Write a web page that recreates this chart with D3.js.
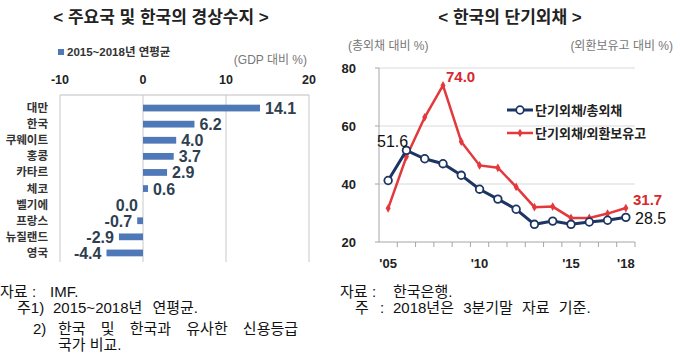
<!DOCTYPE html>
<html>
<head>
<meta charset="utf-8">
<script src="https://cdn.jsdelivr.net/npm/d3@7"></script>
<style>
  body { margin: 0; background: #fff; }
  svg { display: block; font-family: "Liberation Sans", "Noto Sans CJK KR", sans-serif; }
  .note { font-family: "Liberation Sans", "Noto Sans CJK KR", sans-serif; font-size: 15px; fill: #111; }
</style>
</head>
<body>
<div id="chart"></div>
<script>
// 경상수지 (GDP 대비 %, 2015~2018 연평균)
const countries = ["대만", "한국", "쿠웨이트", "홍콩", "카타르", "체코", "벨기에", "프랑스", "뉴질랜드", "영국"];
const balance = [14.1, 6.2, 4.0, 3.7, 2.9, 0.6, 0.0, -0.7, -2.9, -4.4];
const balanceTicks = [-10, 0, 10, 20];

// 한국의 단기외채
const years = [2005, 2006, 2007, 2008, 2009, 2010, 2011, 2012, 2013, 2014, 2015, 2016, 2017, 2018];
const toTotalDebt = [41.2, 51.6, 48.7, 47.0, 43.0, 38.2, 34.8, 31.3, 26.1, 27.2, 26.1, 26.9, 27.5, 28.5];
const toReserves = [31.6, 49.4, 63.0, 74.0, 54.6, 46.4, 45.6, 39.0, 32.0, 32.2, 28.3, 28.3, 29.8, 31.7];
const yearTicks = { 2005: "'05", 2010: "'10", 2015: "'15", 2018: "'18" };
const debtTicks = [20, 40, 60, 80];

(() => {
    const svg = d3.select("#chart").append("svg").attr("width", 680).attr("height", 359);

    const note = (g, x, y, t, ws) => g.append("text").attr("class", "note")
        .attr("x", x).attr("y", y).attr("word-spacing", ws || 0).text(t);

    // ---------- left: bar chart ----------
    const L = svg.append("g");
    L.append("text").attr("x", 161).attr("y", 23).attr("text-anchor", "middle")
        .attr("font-size", 17).attr("font-weight", 700).attr("fill", "#222")
        .text("< 주요국 및 한국의 경상수지 >");

    L.append("rect").attr("x", 58).attr("y", 49).attr("width", 6).attr("height", 6).attr("fill", "#4f78b9");
    L.append("text").attr("x", 67).attr("y", 56).attr("font-size", 11.5).attr("font-weight", 700).attr("fill", "#333")
        .text("2015~2018년 연평균");
    L.append("text").attr("x", 307).attr("y", 64).attr("text-anchor", "end").attr("font-size", 12).attr("fill", "#777")
        .text("(GDP 대비 %)");

    const x = d3.scaleLinear().domain([-10, 20]).range([60, 309]);
    const y = d3.scaleBand().domain(countries).range([100, 261]).paddingInner(0.58).paddingOuter(0.29);

    L.append("line").attr("x1", 60).attr("x2", 309).attr("y1", 95).attr("y2", 95).attr("stroke", "#bfbfbf");
    L.selectAll(".vgrid").data(balanceTicks).join("line")
        .attr("x1", d => x(d)).attr("x2", d => x(d)).attr("y1", 95).attr("y2", 262)
        .attr("stroke", "#c8c8c8");
    L.selectAll(".xt").data(balanceTicks).join("text")
        .attr("x", d => x(d)).attr("y", 84).attr("text-anchor", "middle")
        .attr("font-size", 12.5).attr("font-weight", 700).attr("fill", "#222").text(d => d);

    L.selectAll(".cat").data(countries).join("text")
        .attr("x", 48).attr("y", d => y(d) + y.bandwidth() / 2 + 4).attr("text-anchor", "end")
        .attr("font-size", 11.5).attr("font-weight", 700).attr("fill", "#333").text(d => d);

    const rows = countries.map((c, i) => ({ c, v: balance[i] }));
    L.selectAll(".bar").data(rows).join("rect")
        .attr("x", d => x(Math.min(0, d.v))).attr("width", d => Math.abs(x(d.v) - x(0)))
        .attr("y", d => y(d.c)).attr("height", y.bandwidth()).attr("fill", "#4f78b9");
    L.selectAll(".val").data(rows).join("text")
        .attr("x", d => d.v > 0 ? x(d.v) + 5 : x(d.v) - 5)
        .attr("y", d => y(d.c) + y.bandwidth() / 2 + 6)
        .attr("text-anchor", d => d.v > 0 ? "start" : "end")
        .attr("font-size", 16).attr("font-weight", 700).attr("fill", "#2e4050")
        .text(d => d.v.toFixed(1));

    note(L, 0, 297, "자료");
    note(L, 32, 297, ":");
    note(L, 50, 297, "IMF.");
    note(L, 17, 313, "주1)");
    note(L, 53, 313, "2015~2018년 연평균.", 6);
    note(L, 33, 334, "2)");
    note(L, 58, 334, "한국 및 한국과 유사한 신용등급", 11);
    note(L, 58, 350, "국가 비교.");

    // ---------- right: line chart ----------
    const R = svg.append("g");
    R.append("text").attr("x", 510).attr("y", 23).attr("text-anchor", "middle")
        .attr("font-size", 17).attr("font-weight", 700).attr("fill", "#222")
        .text("< 한국의 단기외채 >");
    R.append("text").attr("x", 348).attr("y", 50).attr("font-size", 12).attr("fill", "#777").text("(총외채 대비 %)");
    R.append("text").attr("x", 673).attr("y", 50).attr("text-anchor", "end").attr("font-size", 12).attr("fill", "#777").text("(외환보유고 대비 %)");

    const xb = d3.scaleBand().domain(years).range([379, 635]);
    const px = d => xb(d) + xb.bandwidth() / 2;
    const yl = d3.scaleLinear().domain([20, 80]).range([242, 68]);

    R.selectAll(".hgrid").data(debtTicks.filter(d => d > 20)).join("line")
        .attr("x1", 379).attr("x2", 635).attr("y1", d => yl(d)).attr("y2", d => yl(d))
        .attr("stroke", "#d9d9d9");
    R.append("line").attr("x1", 379).attr("x2", 379).attr("y1", 68).attr("y2", 242).attr("stroke", "#a6a6a6");
    R.selectAll(".ytk").data(debtTicks).join("line")
        .attr("x1", 375).attr("x2", 379).attr("y1", d => yl(d)).attr("y2", d => yl(d)).attr("stroke", "#a6a6a6");
    R.append("line").attr("x1", 379).attr("x2", 635).attr("y1", 242).attr("y2", 242).attr("stroke", "#a6a6a6");
    R.selectAll(".xtk").data(years).join("line")
        .attr("x1", d => xb(d) + xb.bandwidth()).attr("x2", d => xb(d) + xb.bandwidth())
        .attr("y1", 242).attr("y2", 247).attr("stroke", "#a6a6a6");
    R.selectAll(".yl").data(debtTicks).join("text")
        .attr("x", 356).attr("y", d => yl(d) + 5).attr("text-anchor", "end")
        .attr("font-size", 13).attr("font-weight", 700).attr("fill", "#222").text(d => d);
    R.selectAll(".xl").data(years.filter(d => yearTicks[d])).join("text")
        .attr("x", d => px(d)).attr("y", 268).attr("text-anchor", "middle")
        .attr("font-size", 13).attr("font-weight", 700).attr("fill", "#222").text(d => yearTicks[d]);

    const line = d3.line().x(d => px(d.yr)).y(d => yl(d.v));
    const red = years.map((yr, i) => ({ yr, v: toReserves[i] }));
    const blue = years.map((yr, i) => ({ yr, v: toTotalDebt[i] }));

    R.append("path").datum(red).attr("d", line).attr("fill", "none").attr("stroke", "#e3393c").attr("stroke-width", 2.5);
    R.selectAll(".rm").data(red).join("path")
        .attr("d", d3.symbol(d3.symbolDiamond, 22)).attr("transform", d => `translate(${px(d.yr)},${yl(d.v)})`)
        .attr("fill", "#e3393c");
    R.append("path").datum(blue).attr("d", line).attr("fill", "none").attr("stroke", "#1d3563").attr("stroke-width", 3);
    R.selectAll(".bm").data(blue).join("circle")
        .attr("cx", d => px(d.yr)).attr("cy", d => yl(d.v)).attr("r", 3.8)
        .attr("fill", "#fff").attr("stroke", "#1d3563").attr("stroke-width", 1.8);

    // point labels
    R.append("text").attr("x", px(2008) + 3).attr("y", yl(74.0) - 3).attr("font-size", 15).attr("font-weight", 700).attr("fill", "#d8282d").text("74.0");
    R.append("text").attr("x", 377).attr("y", 147).attr("font-size", 16).attr("fill", "#111").text("51.6");
    R.append("text").attr("x", 633).attr("y", 205).attr("font-size", 15).attr("font-weight", 700).attr("fill", "#d8282d").text("31.7");
    R.append("text").attr("x", 635).attr("y", 224).attr("font-size", 16).attr("fill", "#111").text("28.5");

    // legend
    const lg = R.append("g");
    lg.append("line").attr("x1", 507).attr("x2", 533).attr("y1", 110).attr("y2", 110).attr("stroke", "#1d3563").attr("stroke-width", 3);
    lg.append("circle").attr("cx", 520).attr("cy", 110).attr("r", 3.8).attr("fill", "#fff").attr("stroke", "#1d3563").attr("stroke-width", 1.8);
    lg.append("text").attr("x", 535).attr("y", 115).attr("font-size", 13).attr("font-weight", 700).attr("fill", "#222").text("단기외채/총외채");
    lg.append("line").attr("x1", 507).attr("x2", 533).attr("y1", 133).attr("y2", 133).attr("stroke", "#e3393c").attr("stroke-width", 2.5);
    lg.append("path").attr("d", d3.symbol(d3.symbolDiamond, 22)).attr("transform", "translate(520,133)").attr("fill", "#e3393c");
    lg.append("text").attr("x", 535).attr("y", 138).attr("font-size", 13).attr("font-weight", 700).attr("fill", "#222").text("단기외채/외환보유고");

    note(R, 340, 297, "자료");
    note(R, 372, 297, ":");
    note(R, 393, 297, "한국은행.");
    note(R, 355, 313, "주");
    note(R, 380, 313, ":");
    note(R, 393, 313, "2018년은 3분기말 자료 기준.", 5);
})();
</script>
</body>
</html>
